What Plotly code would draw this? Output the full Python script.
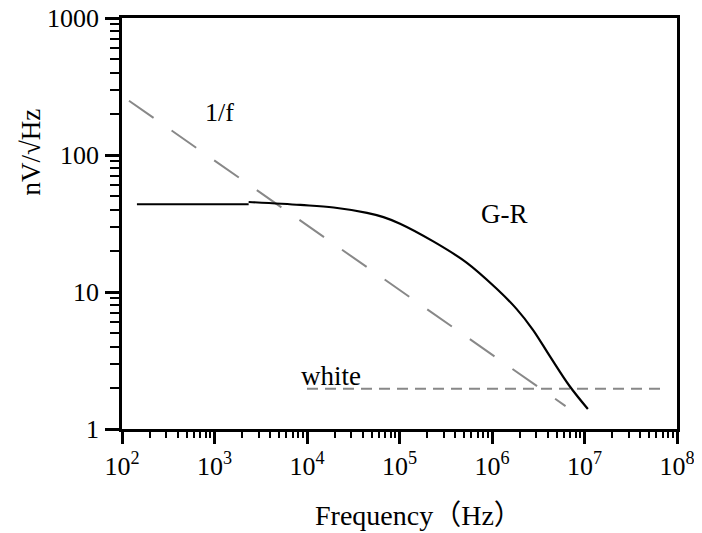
import numpy as np
import plotly.graph_objects as go

# ---- data (Hz, nV/sqrt(Hz)) ----
gr_flat_f = [145, 2340]
gr_flat_v = [43.7, 43.7]
gr_f = [2340, 8490, 19400, 44500, 67100, 101400, 231700, 531000, 1.117e6, 1.84e6, 2.77e6,
        4.2e6, 6.89e6, 1.087e7]
gr_v = [45.4, 43.2, 41.4, 37.8, 35.2, 31.5, 23.4, 16.4, 10.6, 7.53, 5.3, 3.42, 2.06, 1.40]

flicker_f = [119, 6.24e6]
flicker_v = [249, 1.47]

white_f = [1.0e4, 6.8e7]
white_v = [1.97, 1.97]

x_tick_vals = [1e2, 1e3, 1e4, 1e5, 1e6, 1e7, 1e8]
x_tick_text = ["10<sup>2</sup>", "10<sup>3</sup>", "10<sup>4</sup>", "10<sup>5</sup>",
               "10<sup>6</sup>", "10<sup>7</sup>", "10<sup>8</sup>"]
y_tick_vals = [1, 10, 100, 1000]
y_tick_text = ["1", "10", "100", "1000"]

FONT = "Liberation Serif"

x_minor = [m * 10 ** d for d in range(2, 8) for m in range(2, 10)]
y_minor = [m * 10 ** d for d in range(0, 3) for m in range(2, 10)]

fig = go.Figure()
fig.add_trace(go.Scatter(x=flicker_f, y=flicker_v, mode="lines",
                         line=dict(color="#888888", width=2, dash="30px,22px"),
                         showlegend=False, hoverinfo="skip"))
fig.add_trace(go.Scatter(x=white_f, y=white_v, mode="lines",
                         line=dict(color="#888888", width=2, dash="11px,7px"),
                         showlegend=False, hoverinfo="skip"))
fig.add_trace(go.Scatter(x=gr_flat_f, y=gr_flat_v, mode="lines",
                         line=dict(color="black", width=2.2),
                         showlegend=False, hoverinfo="skip"))
fig.add_trace(go.Scatter(x=gr_f, y=gr_v, mode="lines",
                         line=dict(color="black", width=2.2, shape="spline", smoothing=1.0),
                         showlegend=False, hoverinfo="skip"))

axis_common = dict(
    showgrid=False, zeroline=False, showline=True, linecolor="black", linewidth=2.5,
    mirror=True, ticks="outside", tickcolor="black", tickwidth=2.5, automargin=False,
    ticklabeloverflow="allow",
    tickfont=dict(family=FONT, size=26, color="black"),
)

fig.update_xaxes(type="log", range=[2, 8], tickmode="array", tickvals=x_tick_vals,
                 ticktext=x_tick_text, ticklen=12,
                 minor=dict(ticks="outside", tickmode="array", tickvals=x_minor,
                            ticklen=6, tickwidth=2, tickcolor="black", showgrid=False),
                 **axis_common)
fig.update_yaxes(type="log", range=[0, 3], tickmode="array", tickvals=y_tick_vals,
                 ticktext=y_tick_text, ticklen=14, ticklabelstandoff=1,
                 minor=dict(ticks="outside", tickmode="array", tickvals=y_minor,
                            ticklen=9, tickwidth=2, tickcolor="black", showgrid=False),
                 **axis_common)

ann_font = dict(family=FONT, size=27, color="black")
fig.add_annotation(x=np.log10(1146), y=np.log10(206), text="1/f", showarrow=False,
                   font=dict(family=FONT, size=26, color="black"))
fig.add_annotation(x=np.log10(1.35e6), y=np.log10(36.8), text="G-R", showarrow=False, font=ann_font)
fig.add_annotation(x=np.log10(18200), y=np.log10(2.42), text="white", showarrow=False, font=ann_font)
fig.add_annotation(xref="paper", yref="paper", x=0.535, y=-0.204,
                   text="Frequency<span style='font-family:Noto Sans CJK SC'>（</span>Hz<span style='font-family:Noto Sans CJK SC'>）</span>",
                   showarrow=False, font=dict(family=FONT, size=28, color="black"),
                   xanchor="center", yanchor="middle")
fig.add_annotation(xref="paper", yref="paper", x=-0.164, y=0.675, text="nV/√Hz",
                   showarrow=False, font=ann_font, textangle=-90,
                   xanchor="center", yanchor="middle")

fig.update_layout(
    width=702, height=533,
    margin=dict(l=114, r=33, t=10, b=112, pad=0, autoexpand=False),
    paper_bgcolor="white", plot_bgcolor="white",
    font=dict(family=FONT, color="black"),
)

fig.write_html("out.html")
